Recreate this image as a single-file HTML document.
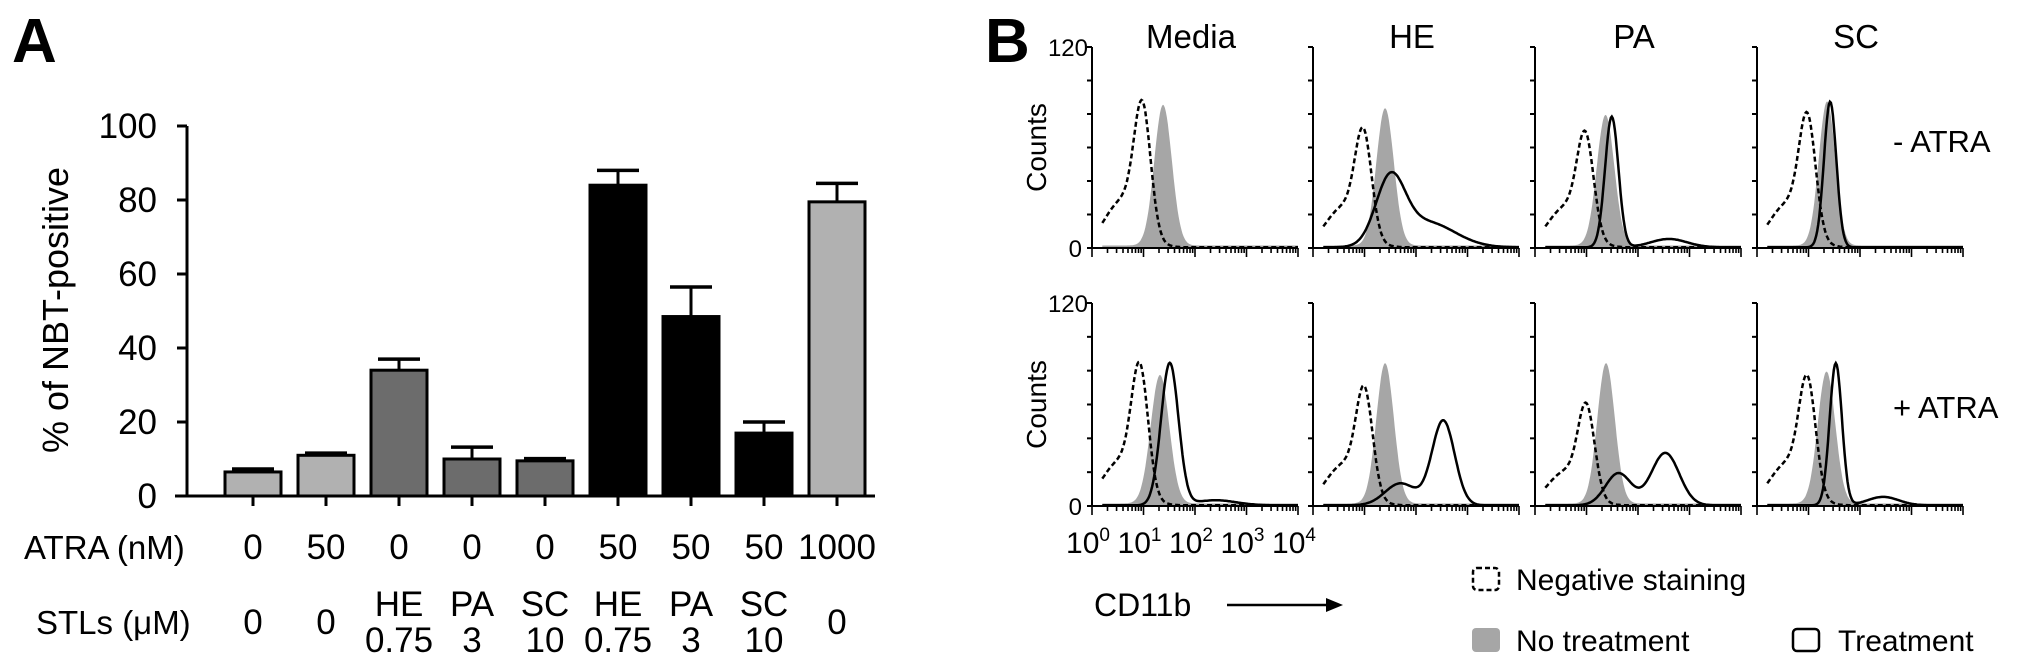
<!DOCTYPE html>
<html><head><meta charset="utf-8"><style>
html,body{margin:0;padding:0;background:#fff;}
svg{display:block;}
text{font-family:"Liberation Sans",sans-serif;fill:#000;}
</style></head><body>
<svg id="fig" width="2031" height="666" viewBox="0 0 2031 666">
<g id="panelA"></g>
<g id="panelB"></g>
</svg>
<script>
// ---------- Panel A data ----------
const barValues = [6.5, 11, 34, 10, 9.5, 84, 48.5, 17, 79.5];
const barErrors = [0.8, 0.6, 3, 3.2, 0.6, 4, 8, 3, 5];
const barGroups = ["light","light","dark","dark","dark","black","black","black","light"];
const atraLabels = ["0","50","0","0","0","50","50","50","1000"];
const stlTop = ["0","0","HE","PA","SC","HE","PA","SC","0"];
const stlBottom = ["","","0.75","3","10","0.75","3","10",""];
const yTicks = [0,20,40,60,80,100];

// ---------- Panel B data: gaussian components [log10 center, sd, count] ----------
const panelTitles = ["Media","HE","PA","SC"];
const rowLabels = ["-  ATRA","+  ATRA"];
const negStain = [
 [[[0.98,0.16,72],[0.6,0.35,28]], [[0.98,0.16,58],[0.6,0.35,24]], [[0.98,0.16,56],[0.6,0.35,24]], [[0.98,0.16,66],[0.6,0.35,26]]],
 [[[0.93,0.16,70],[0.55,0.35,26]], [[1.0,0.16,58],[0.6,0.35,24]], [[1.0,0.16,50],[0.6,0.35,20]], [[0.98,0.16,63],[0.6,0.35,25]]]
];
const noTreat = [
 [[[1.38,0.17,84]], [[1.4,0.17,82]], [[1.37,0.17,78]], [[1.36,0.16,86]]],
 [[[1.32,0.18,76]], [[1.4,0.17,83]], [[1.38,0.17,83]], [[1.35,0.17,78]]]
];
const treat = [
 [[], [[1.5,0.28,38],[2.2,0.55,15]], [[1.49,0.13,78],[2.6,0.35,5]], [[1.42,0.12,87]]],
 [[[1.51,0.17,84],[2.4,0.4,3]], [[2.53,0.22,50],[1.7,0.3,13]], [[2.53,0.27,31],[1.62,0.25,19]], [[1.53,0.12,84],[2.45,0.3,5]]]
];
const decadeLabels = ["0","1","2","3","4"];

const NS="http://www.w3.org/2000/svg";
function mk(tag, attrs, parent){const e=document.createElementNS(NS,tag);for(const k in attrs)e.setAttribute(k,attrs[k]);parent.appendChild(e);return e;}

// ---------- Panel A ----------
(function(){
 const g=document.getElementById('panelA');
 const x0=187, y0=496, y100=126, pitch=73, firstC=253, bw=56;
 const ys=v=>y0-(v/100)*(y0-y100);
 const xc=i=>firstC+i*pitch;
 const colors={light:"#b1b1b1",dark:"#6c6c6c",black:"#000"};
 let t=mk('text',{x:12,y:62,'font-size':62,'font-weight':'bold'},g);t.textContent="A";
 
 let yl=mk('text',{x:0,y:0,'font-size':36,'text-anchor':'middle',transform:'translate(68,310) rotate(-90)'},g);
 yl.textContent="% of NBT-positive";
 const ya=mk('line',{x1:x0,y1:y100,x2:x0,y2:y0,stroke:'#000','stroke-width':3},g);
 
 yTicks.forEach(v=>{
  const l=mk('line',{x1:x0-10,y1:ys(v),x2:x0,y2:ys(v),stroke:'#000','stroke-width':3},g);
  
  const tx=mk('text',{x:x0-30,y:ys(v)+12,'font-size':35,'text-anchor':'end'},g);tx.textContent=v;
  
 });
 barValues.forEach((v,i)=>{
  const c=xc(i);
  const r=mk('rect',{x:c-bw/2,y:ys(v),width:bw,height:y0-ys(v),fill:colors[barGroups[i]],stroke:'#000','stroke-width':3},g);
  
  const et=ys(v+barErrors[i]);
  const e1=mk('line',{x1:c,y1:ys(v),x2:c,y2:et,stroke:'#000','stroke-width':3},g);
  
  const e2=mk('line',{x1:c-21,y1:et,x2:c+21,y2:et,stroke:'#000','stroke-width':3.5},g);
  
  const tk=mk('line',{x1:c,y1:y0,x2:c,y2:y0+10,stroke:'#000','stroke-width':3},g);
  
  const a=mk('text',{x:c,y:559,'font-size':35,'text-anchor':'middle'},g);a.textContent=atraLabels[i];
  
  if(stlBottom[i]===""){
   const s=mk('text',{x:c,y:634,'font-size':35,'text-anchor':'middle'},g);s.textContent=stlTop[i];
   
  }else{
   const s=mk('text',{x:c,y:616,'font-size':35,'text-anchor':'middle'},g);s.textContent=stlTop[i];
   
   const s2=mk('text',{x:c,y:652,'font-size':35,'text-anchor':'middle'},g);s2.textContent=stlBottom[i];
   
  }
 });
 const xa=mk('line',{x1:175,y1:y0,x2:875,y2:y0,stroke:'#000','stroke-width':3},g);
 
 const al=mk('text',{x:24,y:559,'font-size':33},g);al.textContent="ATRA (nM)";
 
 const sl=mk('text',{x:36,y:634,'font-size':33},g);sl.textContent="STLs (μM)";
 
})();

// ---------- Panel B ----------
(function(){
 const g=document.getElementById('panelB');
 const px=[1092,1313,1535,1757], pw=206;
 const rows=[{top:47,zero:248},{top:303,zero:506}];
 const lbl=mk('text',{x:985,y:62,'font-size':62,'font-weight':'bold'},g);lbl.textContent="B";
 
 panelTitles.forEach((tt,j)=>{
  const t=mk('text',{x:px[j]+pw/2-4,y:48,'font-size':33,'text-anchor':'middle'},g);t.textContent=tt;
  
 });
 const f=(comps,l)=>comps.reduce((s,c)=>s+c[2]*Math.exp(-0.5*Math.pow((l-c[0])/c[1],2)),0);
 rows.forEach((r,i)=>{
  const ysc=c=>r.zero-(c/120)*(r.zero-r.top);
  const cl=mk('text',{x:0,y:0,'font-size':28,'text-anchor':'middle',transform:`translate(1046,${(r.top+r.zero)/2}) rotate(-90)`},g);
  cl.textContent="Counts";
  const t120=mk('text',{x:1088,y:r.top+9,'font-size':24,'text-anchor':'end','font-family':'Liberation Serif'},g);t120.textContent="120";
  
  const t0=mk('text',{x:1082,y:r.zero+9,'font-size':24,'text-anchor':'end','font-family':'Liberation Serif'},g);t0.textContent="0";
  
  const rl=mk('text',{x:1893,y:(i===0?152:418),'font-size':31},g);rl.textContent=rowLabels[i];
  
  px.forEach((x0,j)=>{
   const xs=l=>x0+l/4*pw;
   const sub=mk('g',{},g);
   const path=(comps,closed)=>{
    let d='';const N=200;
    for(let k=0;k<=N;k++){const l=0.2+k/N*3.8;d+=(k?'L':'M')+xs(l).toFixed(1)+','+ysc(f(comps,l)+(closed?1.5:0.4)).toFixed(1);}
    if(closed)d+=`L${xs(4)},${r.zero}L${xs(0.2)},${r.zero}Z`;
    return d;
   };
   const gp=mk('path',{d:path(noTreat[i][j],true),fill:'#a6a6a6',stroke:'none'},sub);
   
   const dp=mk('path',{d:path(negStain[i][j],false),fill:'none',stroke:'#000','stroke-width':2.5,'stroke-dasharray':'5,3'},sub);
   
   if(treat[i][j].length){
    const tp=mk('path',{d:path(treat[i][j],false),fill:'none',stroke:'#000','stroke-width':2.5},sub);
    
   }
   const ya=mk('line',{x1:x0,y1:r.top,x2:x0,y2:r.zero,stroke:'#000','stroke-width':2},sub);
   
   for(let c=0;c<=120;c+=20){const tk=mk('line',{x1:x0-5,y1:ysc(c),x2:x0,y2:ysc(c),stroke:'#000','stroke-width':2},sub);
    }
   const xa=mk('line',{x1:x0,y1:r.zero,x2:x0+pw,y2:r.zero,stroke:'#000','stroke-width':2},sub);
   
   for(let dcd=0;dcd<4;dcd++){for(let m=1;m<=9;m++){const l=dcd+Math.log10(m);
    const tk=mk('line',{x1:xs(l),y1:r.zero,x2:xs(l),y2:r.zero+(m===1?9:5),stroke:'#000','stroke-width':1.6},sub);
    }}
   const te=mk('line',{x1:xs(4),y1:r.zero,x2:xs(4),y2:r.zero+9,stroke:'#000','stroke-width':1.6},sub);
   
  });
 });
 decadeLabels.forEach((p,k)=>{
  const t=mk('text',{x:px[0]+k/4*pw-4,y:553,'font-size':30,'text-anchor':'middle','font-family':'Liberation Serif'},g);
  t.textContent="10";
  const s=mk('tspan',{dy:-12,'font-size':19},t);s.textContent=p;
 });
 const cd=mk('text',{x:1094,y:616,'font-size':32},g);cd.textContent="CD11b";
 
 const ar=mk('line',{x1:1227,y1:605,x2:1330,y2:605,stroke:'#000','stroke-width':2.5},g);
 
 const ah=mk('polygon',{points:'1343,605 1326,598 1326,612',fill:'#000'},g);
 
 // legend
 const l1=mk('rect',{x:1473,y:568,width:26,height:22,rx:4,fill:'none',stroke:'#000','stroke-width':2.5,'stroke-dasharray':'5,3'},g);
 
 const lt1=mk('text',{x:1516,y:590,'font-size':30},g);lt1.textContent="Negative staining";
 
 const l2=mk('rect',{x:1472,y:628,width:28,height:24,rx:4,fill:'#a6a6a6'},g);
 
 const lt2=mk('text',{x:1516,y:651,'font-size':30},g);lt2.textContent="No treatment";
 
 const l3=mk('rect',{x:1793,y:629,width:26,height:22,rx:4,fill:'none',stroke:'#000','stroke-width':2.5},g);
 
 const lt3=mk('text',{x:1838,y:651,'font-size':30},g);lt3.textContent="Treatment";
 
})();
</script>
</body></html>
